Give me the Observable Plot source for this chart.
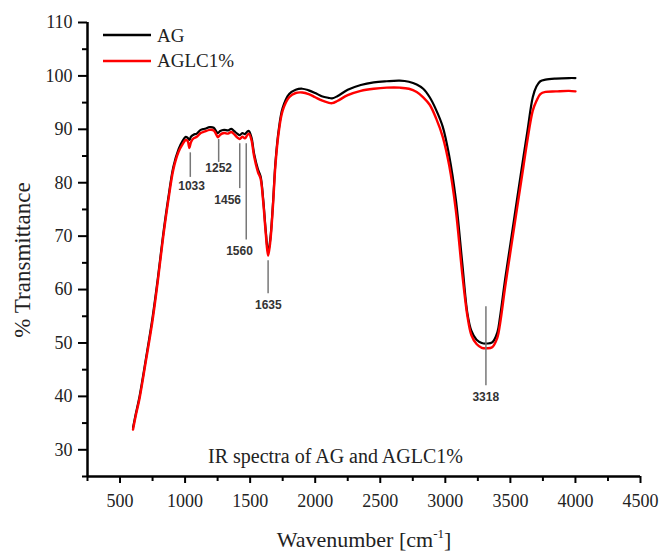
<!DOCTYPE html>
<html>
<head>
<meta charset="utf-8">
<script src="https://cdn.jsdelivr.net/npm/d3@7"></script>
<script src="https://cdn.jsdelivr.net/npm/@observablehq/plot@0.6"></script>
<style>
  html, body { margin: 0; padding: 0; background: #fff; }
  #chart { width: 661px; height: 552px; }
</style>
</head>
<body>
<div id="chart"></div>
<script>
// ---- data ----
const wavenumber = [600, 620, 650, 700, 750, 790, 830, 870, 910, 950, 980, 1005, 1020, 1033, 1045, 1065, 1090, 1120, 1150, 1190, 1220, 1240, 1252, 1270, 1300, 1330, 1355, 1380, 1400, 1420, 1440, 1460, 1475, 1490, 1510, 1530, 1560, 1580, 1600, 1620, 1638, 1655, 1675, 1695, 1720, 1750, 1800, 1850, 1900, 1950, 2000, 2050, 2100, 2130, 2170, 2250, 2350, 2450, 2550, 2650, 2720, 2780, 2830, 2880, 2930, 2980, 3030, 3080, 3130, 3170, 3200, 3240, 3280, 3320, 3360, 3400, 3420, 3460, 3500, 3550, 3600, 3630, 3672, 3700, 3730, 3770, 3850, 3950, 4000];
const agValues = [34.2, 36.6, 40.0, 47.2, 54.8, 62.0, 70.0, 77.0, 83.0, 86.3, 87.8, 88.6, 88.4, 88.0, 88.6, 89.0, 89.2, 89.9, 90.1, 90.4, 90.3, 89.6, 89.3, 89.7, 89.9, 89.8, 90.1, 89.6, 89.2, 88.9, 89.3, 89.1, 89.5, 89.7, 88.5, 85.5, 82.5, 81.2, 77.0, 71.0, 67.0, 69.5, 76.0, 84.0, 90.0, 94.0, 96.6, 97.4, 97.6, 97.3, 96.8, 96.2, 95.9, 95.8, 96.2, 97.4, 98.3, 98.8, 99.0, 99.1, 98.9, 98.4, 97.6, 96.0, 93.6, 90.5, 85.0, 77.0, 65.0, 55.5, 52.3, 50.6, 50.0, 49.9, 50.1, 52.0, 54.8, 62.0, 68.5, 76.7, 84.8, 89.5, 96.0, 98.0, 99.0, 99.3, 99.5, 99.6, 99.6];
const aglcValues = [33.8, 36.3, 39.6, 46.8, 54.2, 61.5, 69.5, 76.5, 82.5, 85.8, 87.2, 88.0, 87.8, 86.5, 87.6, 88.3, 88.6, 89.3, 89.6, 89.9, 89.8, 89.0, 88.5, 89.0, 89.3, 89.2, 89.5, 89.0, 88.5, 88.2, 88.6, 88.3, 88.8, 89.2, 88.0, 85.0, 82.0, 80.8, 76.5, 70.5, 66.3, 69.0, 75.5, 83.5, 89.5, 93.5, 96.0, 96.8, 96.9, 96.6, 96.0, 95.4, 95.0, 94.9, 95.3, 96.4, 97.2, 97.6, 97.8, 97.8, 97.6, 97.0, 96.0, 94.6, 92.0, 88.6, 83.2, 75.0, 63.0, 55.0, 51.5, 49.8, 49.1, 49.0, 49.2, 51.0, 53.5, 60.5, 67.0, 75.0, 83.0, 87.8, 93.5, 95.3, 96.6, 97.0, 97.1, 97.2, 97.1];
const seriesNames = ["AG", "AGLC1%"];
const seriesColors = ["#000000", "#ff0000"];

// peak annotations
const peakLabels = ["1033", "1252", "1456", "1560", "1635", "3318"];
const peakLineX = [1040, 1258, 1420, 1470, 1638, 3312];
const peakLineTop = [85.6, 88.1, 87.3, 87.3, 65.4, 56.8];
const peakLineBottom = [81.0, 83.8, 78.9, 69.3, 59.2, 42.0];
const peakLabelX = [1050, 1258, 1327, 1418, 1640, 3311];
const peakLabelY = [79.3, 82.8, 76.7, 67.1, 57.0, 39.9];

const xMajorTicks = [500, 1000, 1500, 2000, 2500, 3000, 3500, 4000, 4500];
const xMinorTicks = [250, 750, 1250, 1750, 2250, 2750, 3250, 3750, 4250];
const yMajorTicks = [30, 40, 50, 60, 70, 80, 90, 100, 110];
const yMinorTicks = [25, 35, 45, 55, 65, 75, 85, 95, 105];

const titleText = "IR spectra of AG and AGLC1%";
const xLabel = "Wavenumber [cm";
const xLabelSup = "-1";
const yLabel = "% Transmittance";

// ---- build table ----
const rows = [];
seriesNames.forEach((name, s) => {
  const vals = s === 0 ? agValues : aglcValues;
  wavenumber.forEach((w, i) => rows.push({ wn: w, T: vals[i], series: name }));
});
const peaks = peakLabels.map((l, i) => ({
  label: l, x: peakLineX[i], y1: peakLineTop[i], y2: peakLineBottom[i],
  lx: peakLabelX[i], ly: peakLabelY[i]
}));

const serif = "Liberation Serif";
const sans = "Liberation Sans";
const xMin = 250, yMin = 25;

const plot = Plot.plot({
  width: 661,
  height: 552,
  marginLeft: 87,
  marginRight: 21,
  marginTop: 22,
  marginBottom: 76,
  style: { background: "#fff" },
  x: { domain: [xMin, 4500], label: null },
  y: { domain: [yMin, 110], label: null },
  color: { domain: seriesNames, range: seriesColors },
  marks: [
    Plot.axisX({ ticks: xMajorTicks, tickSize: 7, strokeWidth: 2, text: null, label: null }),
    Plot.axisX({ ticks: xMinorTicks, tickSize: 5, strokeWidth: 2, text: null, label: null }),
    Plot.axisY({ ticks: yMajorTicks, tickSize: 9, strokeWidth: 2, text: null, label: null }),
    Plot.axisY({ ticks: yMinorTicks, tickSize: 5, strokeWidth: 2, text: null, label: null }),
    Plot.text(xMajorTicks, { x: d => d, y: () => yMin, dy: 25, text: d => String(d), fontFamily: serif, fontSize: 18, fill: "#222" }),
    Plot.text(yMajorTicks, { x: () => xMin, y: d => d, dx: -15, textAnchor: "end", text: d => String(d), fontFamily: serif, fontSize: 18, fill: "#222" }),
    Plot.ruleX([xMin], { stroke: "#000", strokeWidth: 2.5 }),
    Plot.ruleY([yMin], { stroke: "#000", strokeWidth: 2.5 }),
    Plot.line(rows.filter(d => d.series === "AG"), { x: "wn", y: "T", stroke: "series", strokeWidth: 2.2, curve: "catmull-rom" }),
    Plot.line(rows.filter(d => d.series === "AGLC1%"), { x: "wn", y: "T", stroke: "series", strokeWidth: 2.4, curve: "catmull-rom" }),
    Plot.ruleX(peaks, { x: "x", y1: "y1", y2: "y2", stroke: "#777", strokeWidth: 1.5 }),
    Plot.text(peaks, { x: "lx", y: "ly", text: "label", fontFamily: sans, fontWeight: "bold", fontSize: 12, fill: "#333" })
  ]
});

const svg = d3.select(plot);
// legend
const legend = [[35, 42, seriesColors[0], seriesNames[0]], [61, 67, seriesColors[1], seriesNames[1]]];
legend.forEach(([ly, ty, c, name]) => {
  svg.append("line").attr("x1", 103).attr("x2", 151).attr("y1", ly).attr("y2", ly)
    .attr("stroke", c).attr("stroke-width", 2.5);
  svg.append("text").attr("x", 157).attr("y", ty).attr("text-anchor", "start").attr("font-family", serif)
    .attr("font-size", 19).attr("fill", "#222").text(name);
});
// caption inside plot
svg.append("text").attr("x", 208).attr("y", 463).attr("text-anchor", "start").attr("font-family", serif)
  .attr("font-size", 20).attr("fill", "#222").text(titleText);
// x label
const xl = svg.append("text").attr("x", 364).attr("y", 547).attr("text-anchor", "middle")
  .attr("font-family", serif).attr("font-size", 22).attr("fill", "#222");
xl.append("tspan").text(xLabel);
xl.append("tspan").attr("font-size", 13).attr("dy", -9).text(xLabelSup);
xl.append("tspan").attr("dy", 9).text("]");
// y label
svg.append("text").attr("transform", "translate(30,260) rotate(-90)").attr("text-anchor", "middle")
  .attr("font-family", serif).attr("font-size", 23).attr("fill", "#222").text(yLabel);

document.getElementById("chart").appendChild(plot);
</script>
</body>
</html>
